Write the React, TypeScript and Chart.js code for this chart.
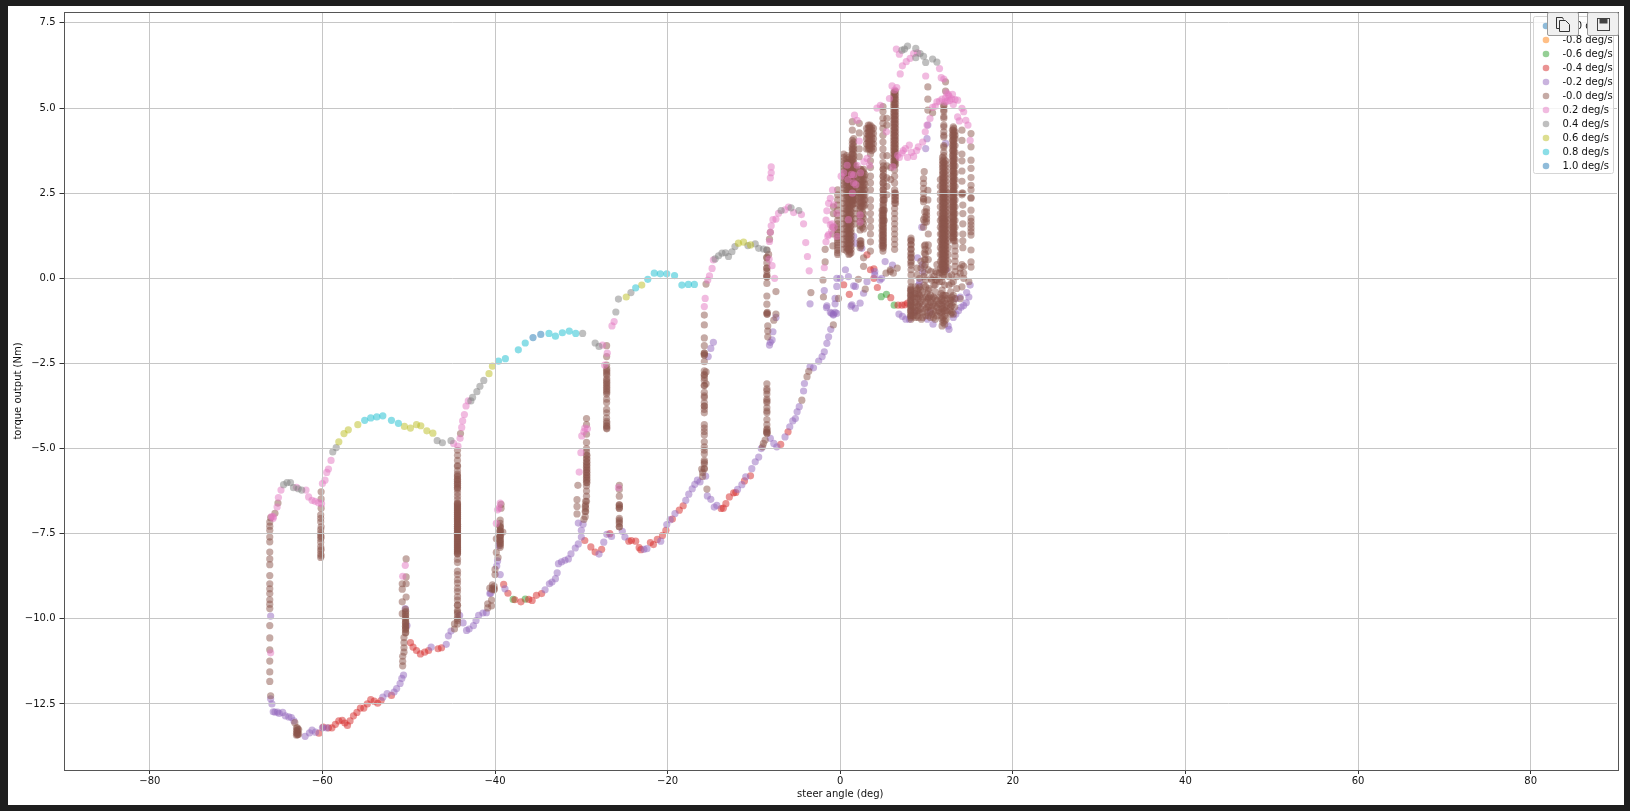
import React, { useEffect, useRef } from "react";
import { Chart, registerables } from "chart.js";

Chart.register(...registerables);

const xTicks = [-80, -60, -40, -20, 0, 20, 40, 60, 80];
const yTicks = [-12.5, -10, -7.5, -5, -2.5, 0, 2.5, 5, 7.5];
const xTitle = "steer angle (deg)";
const yTitle = "torque output (Nm)";

const labels = ["-1.0 deg/s", "-0.8 deg/s", "-0.6 deg/s", "-0.4 deg/s", "-0.2 deg/s", "-0.0 deg/s", "0.2 deg/s", "0.4 deg/s", "0.6 deg/s", "0.8 deg/s", "1.0 deg/s"];
const colors = ["31,119,180", "255,127,14", "44,160,44", "214,39,40", "148,103,189", "140,86,75", "227,119,194", "127,127,127", "188,189,34", "23,190,207", "31,119,180"];

// each row: x, then the y readings at that x
const rateM10: number[][] = [];
const rateM08: number[][] = [];
const rateM06: number[][] = [
  [-37.9, -9.43], [-36.5, -9.42], [4.75, -0.54], [5.35, -0.47], [6.25, -0.79],
];
const rateM04: number[][] = [
  [-60.4, -13.36], [-59.9, -13.18], [-59.3, -13.2], [-58.9, -13.2], [-58.5, -13.1], [-58.1, -13.0], [-57.7, -12.98], [-57.4, -13.06], [-57.1, -13.13], [-56.8, -13.0],
  [-56.4, -12.85], [-56, -12.75], [-55.6, -12.62], [-55.2, -12.62], [-54.8, -12.5], [-54.4, -12.37], [-54, -12.42], [-53.6, -12.48], [-53.2, -12.4], [-52, -12.25],
  [-49.8, -10.7], [-49.5, -10.83], [-49.1, -10.93], [-48.65, -11.03], [-48.15, -10.98], [-47.7, -10.93], [-46.6, -10.88], [-46.2, -10.85],
  [-39, -8.99], [-38.5, -9.25], [-37.7, -9.44], [-37, -9.5], [-36.1, -9.43], [-35.7, -9.46], [-35.2, -9.31], [-34.6, -9.26],
  [-29.6, -7.7], [-28.9, -7.89], [-28.4, -8.04], [-27.65, -7.96], [-26.7, -7.5],
  [-24.5, -7.72], [-24.2, -7.7], [-23.7, -7.72], [-23.3, -7.91], [-23.1, -7.97], [-22, -7.76], [-21.65, -7.82], [-21.2, -7.67], [-20.6, -7.55], [-20.2, -7.4],
  [-19.45, -7.07], [-18.65, -6.81], [-18.2, -6.68], [-13.8, -6.76], [-13.55, -6.75], [-13.25, -6.62], [-12.85, -6.42], [-12.35, -6.3], [-12.1, -6.29],
  [-11.1, -5.95], [-10.4, -5.8], [-6.9, -4.88], [-6.05, -4.51],
  [0.4, -0.19], [1.05, -0.47], [3.1, 0.69], [3.5, 0.25], [3.9, 0.28], [3.9, 0], [4.3, -0.27], [5.85, -0.57], [6.7, -0.79], [7.15, -0.79], [7.5, -0.78], [7.8, -0.73],
];
const rateM02: number[][] = [
  [-66, -9.92], [-66, -12.35], [-65.85, -12.5], [-65.7, -12.73], [-65.5, -12.74], [-65.2, -12.74], [-65, -12.78], [-64.6, -12.75], [-64.3, -12.85], [-63.9, -12.88], [-63.6, -12.9], [-63.3, -13.0],
  [-62, -13.45], [-61.5, -13.35], [-61.2, -13.27], [-60.8, -13.33], [-60, -13.2], [-59.5, -13.2],
  [-53, -12.3], [-52.5, -12.2], [-51.7, -12.15], [-51.4, -12.05], [-51, -11.9], [-50.8, -11.75], [-50.6, -11.65], [-50.4, -9.7], [-50.2, -10.2],
  [-47.4, -10.83], [-45.65, -10.75], [-45.4, -10.5], [-45.1, -10.36], [-44.1, -9.9], [-43.7, -10.12], [-43.3, -10.34], [-43, -10.3], [-42.5, -10.2], [-42.2, -10.05], [-41.9, -9.9], [-41.4, -9.83], [-41, -9.82], [-40.6, -9.26],
  [-39.6, -7.85], [-39.7, -8.3], [-39.8, -8.45], [-39.4, -8.7], [-40.5, -9.25], [-38.85, -9.12],
  [-34.2, -9.15], [-33.7, -8.97], [-33.4, -8.92], [-33, -8.82], [-32.8, -8.65], [-32.65, -8.38], [-32.3, -8.33], [-31.9, -8.28], [-31.5, -8.24], [-31.2, -8.09], [-30.7, -7.92], [-30.35, -7.8], [-30, -7.6], [-30, -7.4], [-30.35, -7.19], [-29.8, -7.22],
  [-27.95, -8.1], [-27.4, -7.75], [-27.05, -7.52], [-26.5, -7.58], [-25.25, -7.43], [-24.95, -7.6], [-22.75, -7.96], [-22.4, -7.94], [-20.8, -7.72],
  [-20.1, -7.23], [-19.7, -7.09], [-19.15, -6.91], [-17.9, -6.52], [-17.55, -6.34], [-17.15, -6.18], [-16.85, -6.05], [-16.55, -5.93], [-16.25, -5.98], [-15.6, -5.81],
  [-14.7, -1.88], [-15, -2.06], [-15.3, -2.3], [-15.4, -6.39], [-15, -6.49], [-14.6, -6.72], [-14.3, -6.67], [-11.9, -6.2], [-11.4, -6.06], [-10.95, -5.83], [-10.25, -5.59], [-9.85, -5.39], [-9.45, -5.25], [-9.15, -5],
  [-8.1, -4.7], [-7.7, -4.85], [-7.35, -4.95], [-6.4, -4.66], [-5.85, -4.36], [-5.5, -4.19], [-5.2, -4.12], [-5, -3.92], [-4.75, -3.77], [-4.25, -3.31], [-4.15, -3.09], [-3.5, -2.6], [-3.1, -2.63], [-2.5, -2.43], [-2.1, -2.3], [-1.85, -2.16], [-1.55, -1.91], [-1.35, -1.72], [-1.1, -1.5],
  [-7.45, -1.15], [-7.8, -1.57], [-7.9, -1.81], [-8.2, -1.96], [-8.1, -1.88],
  [-3.5, -0.75], [-1, -1.03], [-0.8, -1.08], [-0.4, -1.03], [-1.55, -0.81], [-1.85, -0.36], [-1.6, -0.86],
  [-0.6, -0.59], [-0.4, 0], [0, 0], [-0.4, -0.24], [-0.6, -0.75], [-1.15, -1.0], [-0.6, -1], [-0.8, -1.05], [1.35, -0.78], [1.75, -0.24], [0.6, 0.25], [0.95, 0.05], [1.55, -0.22], [2.7, -0.44], [2.3, -0.73], [1.75, -0.88], [1.25, -0.82], [4, 0.2], [4.8, 0], [4.6, -0.05], [5.2, 0.49], [6.05, 0.39], [3.1, -0.1], [2.5, 0.88], [1.75, 1.03], [1.55, 1.23], [4, 0.1],
  [6.8, -1.05], [7.2, -1.12], [7.6, -1.2], [8, -1.2], [8.5, -1.0], [9.5, 0.4], [9.55, 0.2],
  [8.95, 0.6], [9.1, -0.2], [9.2, -0.1], [10.1, -1.2], [10.4, -1.0], [10.75, -1.35],
  [12.3, 0.25], [12.6, -1.5], [12.5, -1.4], [13.1, -1.15], [13.4, -1.05], [13.7, -0.95], [14, -0.85], [14.3, -0.8], [14.6, -0.72], [14.9, -0.55], [15.05, -0.2], [14.65, -0.42], [13.4, -0.6], [13.9, -0.55],
  [10.15, 4.5], [10.05, 4.1], [9.9, 3.81], [12.2, 3.96], [9.45, 1.5],
];
const rateM00: number[][] = [
  [-66.1, -7.16, -7.28, -7.4, -7.6, -7.74, -8.04, -8.24, -8.41, -8.73, -8.97, -9.12, -9.26, -9.44, -9.57, -9.7, -10.2, -10.56, -10.91, -11.24, -11.56, -11.84],
  [-66, -7.03, -12.26], [-65.5, -6.9], [-65.15, -6.6],
  [-63.2, -13.05], [-62.9, -13.2, -13.3, -13.35, -13.4], [-62.75, -13.25, -13.38],
  [-60.15, -6.27, -6.48, -6.75], [-60.2, -6.95, -7.05, -7.15, -7.38, -7.48, -7.55, -7.65, -7.75, -7.88, -8.0, -8.1, -8.2],
  [-50.3, -8.24, -8.77, -8.97, -9.36], [-50.75, -8.97, -9.13, -9.5, -9.85], [-50.35, -9.78, -9.88, -9.98, -10.08, -10.13, -10.2, -10.26, -10.3, -10.4], [-50.55, -10.55, -10.7, -10.85, -10.98], [-50.7, -11.1, -11.25, -11.38],
  [-44.35, -5.05, -5.2, -5.35, -5.5, -5.52, -5.65, -5.75, -5.83, -5.9, -5.96, -6.02, -6.08, -6.14, -6.2, -6.3, -6.4, -6.5, -6.6, -6.64, -6.7, -6.76, -6.82, -6.87, -6.93, -6.99, -7.05, -7.1, -7.16, -7.22, -7.28, -7.33, -7.39, -7.45, -7.5, -7.56, -7.62, -7.68, -7.73, -7.79, -7.85, -7.9, -7.96, -8.02, -8.08, -8.25, -8.35, -8.6, -8.7, -8.85, -8.95, -9.1, -9.2, -9.35, -9.45, -9.6, -9.75, -9.85, -9.95, -10.05, -10.15],
  [-44.7, -10.3, -10.15], [-44, -4.56],
  [-39.3, -6.64, -6.75], [-39.4, -7.1, -7.3, -7.4, -7.48, -7.55, -7.62, -7.7, -7.78, -7.85], [-39.85, -7.65, -8.05], [-39.65, -8.2], [-39.1, -7.45],
  [-40, -8.55, -8.7], [-40.1, -9.05, -9.12, -9.15], [-40.4, -9.45, -9.62], [-40.85, -9.56, -9.68], [-40.6, -9.1],
  [-29.4, -4.12, -4.3, -4.58, -4.82, -5.0, -5.1, -5.2, -5.3, -5.4, -5.48, -5.55, -5.63, -5.7, -5.78, -5.85, -5.93, -6.0, -6.1, -6.25, -6.4, -6.55],
  [-29.55, -6.7, -6.85, -7.0], [-29.7, -7.08], [-30.5, -6.5, -6.7, -6.92], [-30.4, -6.08],
  [-27.07, -1.98, -2.3, -2.55, -2.7, -2.8, -3.0, -3.1, -3.2, -3.3, -3.4, -3.55, -3.65, -3.85, -3.95, -4.1, -4.2, -4.32, -4.4],
  [-25.6, -6.08, -6.2, -6.4, -6.65, -6.75, -7.05, -7.15, -7.3],
  [-15.75, -1.08, -1.37, -1.75, -1.98, -2.2, -2.25, -2.45, -2.72, -2.82, -2.92, -3.0, -3.15, -3.35, -3.5, -3.65, -3.75, -3.85, -3.95, -4.3, -4.4, -4.5, -4.6, -4.8, -4.95, -5.05, -5.15, -5.35, -5.45, -5.6],
  [-15.55, -0.17, -2.75, -3.1], [-15.95, -5.7, -5.82], [-16.05, -5.6], [-15.45, -6.19],
  [-8.5, -0.15, -0.52, -0.76, -1.02, -1.05, 0.83, 0.62, 0.45, 0.3, 0.22, 0.1, 0.04], [-8.4, -1.4, -1.55, -1.72], [-8.3, 0.7], [-8.2, 1.15], [-8.1, 1.35], [-7.45, -0.39, -1.05], [-7.7, -1.23],
  [-8.5, -3.1, -3.25, -3.4, -3.55, -3.65, -3.8, -3.95, -4.15, -4.3, -4.5, -4.55], [-8.7, -4.75], [-8.9, -4.85], [-9.0, -4.95],
  [-4.45, -3.58], [-3.85, -2.89], [-3.65, -2.73], [-0.8, -1.37], [-3.4, -0.42], [-1.95, -0.55], [-2, -0.05], [-1.75, 0.48, 0.85],
  [-0.8, 1.9, 2.1], [-0.85, 1.5, 1.3, 0.95],
  [-0.3, 2.6, 2.45, 2.3, 2.15, 2.0, 1.85, 1.7, 1.6, 1.5, 1.42, 1.35, 1.27, 1.2, 1.12, 1.05, 0.98, 0.9, 0.82, 0.75, 0.7],
  [0.4, 3.65, 3.55, 3.45, 3.35, 3.25, 3.15, 3.05, 2.95, 2.85, 2.75, 2.65, 2.5, 2.35, 2.2, 2.05, 1.9, 1.75, 1.6, 1.45, 1.3, 1.15, 1.0, 0.85],
  [1.1, 3.5, 3.4, 3.3, 3.2, 3.1, 3.0, 2.9, 2.8, 2.7, 2.6, 2.5, 2.4, 2.3, 2.2, 2.1, 2.0, 1.9, 1.8, 1.7, 1.6, 1.5, 1.4, 1.3, 1.2, 1.1, 1.0, 0.9, 0.8, 0.72],
  [1.4, 4.6, 4.35, 4.05, 3.85, 3.75, 3.65, 3.55, 3.45, 3.35, 3.25, 3.15, 3.05, 2.95, 2.85, 2.75, 2.65, 2.55, 2.45, 2.35, 2.25, 2.15],
  [1.75, 3.3, 3.2, 3.1, 3.0, 2.9, 2.8, 2.7, 2.6, 2.5, 2.4, 2.3, 2.2, 2.05, 1.9, 1.75, 1.6],
  [2.2, 4.55, 4.27, 3.8, 3.57], [2.3, 3.2, 3.05, 2.9, 2.75, 2.6, 2.48, 2.36, 2.24, 2.12, 2.05, 1.9, 1.78, 1.66, 1.54, 1.42, 1.1, 1.0, 0.9],
  [2.7, 3.2, 3.1, 3.0, 2.9, 2.8, 2.7, 2.6, 2.5, 2.4, 2.3, 2.2, 2.1, 1.9, 1.75, 1.6, 1.45, 0.6, 0.35],
  [3.25, 4.5, 4.4, 4.3, 4.2, 4.1, 4.0, 3.9, 3.8], [3.65, 4.45, 4.35, 4.25, 4.15, 4.05, 3.95, 3.85, 3.75],
  [3.5, 3.65, 3.45, 3.25, 3.0, 2.8, 2.6, 2.3, 2.1, 1.9, 1.7, 1.5, 1.3, 1.07, 0.8],
  [4.95, 5.04, 4.9, 4.7, 4.55, 4.4, 4.2, 4.0, 3.8, 3.6, 3.4, 3.2, 3.0, 2.8, 2.6, 2.45, 2.3, 2.15, 2.0, 1.92, 1.84, 1.76, 1.68, 1.6, 1.52, 1.44, 1.36, 1.28, 1.2, 1.12, 1.04, 0.96, 0.88, 0.8],
  [5.4, 4.7, 4.5, 3.6, 3.3, 2.95, 2.7, 2.45], [5.1, 2.3, 2.0, 1.7],
  [6.3, 5.48, 5.4, 5.32, 5.24, 5.16, 5.08, 5.0, 4.92, 4.84, 4.76, 4.68, 4.6, 4.52, 4.44, 4.36, 4.28, 4.2, 4.12, 4.04, 3.96, 3.88, 3.8, 3.72, 3.64, 3.56, 3.48, 3.4, 3.32, 3.18, 3.0, 2.8, 2.6, 2.5, 2.4, 2.3, 2.2, 2.05, 1.9, 1.75, 1.6, 1.45, 1.3, 1.15, 1.0, 0.85],
  [5.85, 3.25, 2.9], [5.8, 0.25], [5.3, 0.15], [6.6, 0.3], [6.15, 0.15], [2.9, -0.32], [2.1, -0.03], [-0.2, -0.59], [5.8, 0.2],
  [8.2, 1.18, 1.12, 1.0, 0.85, 0.7, 0.6, 0.45, 0.25, 0.1, -0.1, -0.25, -0.35, -0.45, -0.55, -0.65, -0.75, -0.85, -0.95, -1.05, -1.15],
  [10.15, 5.62, 5.26, 4.94, 2.58, 2.3], [10.7, 4.86], [9.73, 3.13], [9.65, 2.93, 2.79, 2.64, 2.49, 2.34],
  [10, 2.05, 1.95, 1.85, 1.75, 1.65], [9.65, 1.72, 1.5], [10.2, 1.3], [9.85, 0.98, 0.85, 0.7, 0.55, 0.4], [10.2, 0.98, 0.8, 0.55, 0.25], [9.35, 0.5, 0.3],
  [12.2, 5.77, 5.5], [12, 5.09, 4.95, 4.75, 4.5, 4.3, 4.15, 3.9, 3.7],
  [11.85, 3.55, 3.45, 3.35, 3.25, 3.15, 3.05, 2.95, 2.85, 2.75, 2.65, 2.55, 2.45, 2.35, 2.25, 2.15, 2.05, 1.95, 1.85, 1.75, 1.65, 1.55, 1.45, 1.35, 1.25, 1.15, 1.05, 0.95, 0.85, 0.75, 0.65, 0.55, 0.45, 0.35, 0.25, 0.15, 0.05],
  [12.2, 3.45, 3.35, 3.25, 3.15, 3.05, 2.95, 2.85, 2.75, 2.65, 2.55, 2.45, 2.35, 2.25, 2.15, 2.05, 1.95, 1.85, 1.75, 1.65, 1.55, 1.45, 1.35, 1.25, 1.15, 1.05, 0.95, 0.85, 0.75, 0.65, 0.55, 0.45, 0.35, 0.25],
  [11.6, 2.9, 2.7, 2.5, 2.3, 2.1, 1.9, 1.7, 1.5, 1.3, 1.1, 0.9, 0.7, 0.5, 0.3],
  [12.5, 2.5, 2.3, 2.1, 1.9, 1.7, 1.5, 1.3, 1.1, 0.9, 0.7, 0.5, 0.3],
  [13.1, 4.45, 4.35, 4.25, 4.15, 4.05, 3.95, 3.85, 3.75, 3.65, 3.55, 3.45, 3.35, 3.25, 3.15, 3.05, 2.95, 2.85, 2.75, 2.65, 2.55, 2.45, 2.35, 2.25, 2.15, 2.05, 1.95, 1.85, 1.75, 1.65, 1.55, 1.45, 1.35, 1.25, 1.15],
  [13.3, 4.3, 4.2, 4.1, 3.9, 3.7, 3.5, 3.3, 3.1, 2.9, 2.7, 2.5, 2.3, 2.1, 1.9, 1.7, 1.5, 1.3, 1.1, 0.95, 0.8, 0.65, 0.5, 0.35, 0.2],
  [14.1, 4.35, 4.05, 3.65, 3.45, 3.15, 2.85, 2.45, 2.5], [14.2, 2.5, 2.15, 1.9, 1.6, 1.3, 1.1, 0.9],
  [15.15, 4.25, 3.86, 3.47, 3.23, 2.96, 2.73, 2.6, 2.37, 2.35, 2.0, 1.77, 1.67, 1.57, 1.47, 1.37, 1.27, 0.83, 0.48, 0.33],
  [14.3, 0.35, 0.15, 0.0], [13.9, 0.15, 0.3], [14.9, -0.1],
  [8.7, -0.25, -0.45, -0.7, -0.95, -1.15], [9.2, 0, -0.25, -0.5, -0.75, -1.0], [10.2, -0.35, -0.6, -0.85, -1.1], [10.8, -0.55, -0.75, -0.95, -1.15], [11.8, -0.1, -0.35, -0.6, -0.8, -1.0, -1.2, -1.4],
  [12.1, -0.2, -0.5, -0.85, -1.1, -1.35], [12.8, -0.4, -0.65, -0.85, -1.05], [13.1, -0.1, -0.5, -0.7, -1.05], [13.9, -0.6], [11.0, -0.2, -0.4], [10.5, 0.2, 0], [11.2, 0.4, 0.15, -0.05], [9.9, -0.05, -0.25],
  [11.4, -0.75, -0.95],
];
// repeat passes over the same stretches, which is what makes them read dark
const rateM00Repeat: number[][] = [
  [-60.15, -7.3, -7.6, -7.95, -8.15],
  [-50.38, -9.72, -9.82, -9.92, -10.02, -10.12, -10.22, -10.32, -10.42],
  [-44.35, -5.8, -5.92, -6.04, -6.16, -6.62, -6.68, -6.74, -6.8, -6.86, -6.92, -6.98, -7.04, -7.1, -7.16, -7.22, -7.28, -7.34, -7.4, -7.46, -7.52, -7.58, -7.64, -7.7, -7.76, -7.82, -7.88, -7.94, -8.0, -8.06, -8.1],
  [-44.35, -9.6, -9.8, -10.0],
  [-39.4, -7.2, -7.32, -7.44, -7.56, -7.68, -7.8, -7.9], [-39.42, -7.28, -7.42, -7.58, -7.74],
  [-40.3, -9.0, -9.1, -9.15], [-63.0, -13.2, -13.28, -13.36, -13.42], [-62.85, -13.25, -13.4],
  [-29.35, -5.2, -5.3, -5.4, -5.5, -5.6, -5.7, -5.8, -5.9, -6.0], [-29.5, -6.55, -6.65, -6.75, -6.85],
  [-27.05, -2.65, -2.75, -2.85, -2.95, -3.05, -3.15, -3.25, -3.35, -4.25, -4.35, -4.42],
  [-25.6, -6.65, -6.7, -6.75, -7.1, -7.2, -7.3],
  [-15.75, -2.2, -2.25, -2.85, -3.15, -3.45, -3.75, -5.4, -5.58],
  [-8.5, -3.3, -3.6, -3.9, -4.45, -4.52],
  [-8.48, -4.42, -4.55],
  [-8.52, 0.6, 0.3, 0.05], [-8.45, -1.0, -1.05],
  [0.75, 3.6, 3.5, 3.4, 3.3, 3.2, 3.1, 3.0, 2.9, 2.8, 2.7, 2.6, 2.5, 2.4, 2.3, 2.2, 2.1, 2.0, 1.9, 1.8, 1.7, 1.6, 1.5, 1.4, 1.3, 1.2, 1.1, 1.0, 0.9, 0.8],
  [1.25, 3.45, 3.35, 3.25, 3.15, 3.05, 2.95, 2.85, 2.75, 2.65, 2.55, 2.45, 2.35, 2.25, 2.15, 2.05, 1.95, 1.85, 1.75, 1.65, 1.55, 1.45, 1.35, 1.25, 1.15, 1.05, 0.95, 0.85, 0.75],
  [1.0, 3.55, 3.4, 3.25, 3.1, 2.95, 2.8, 2.65, 2.5, 2.35, 2.2, 2.05, 1.9, 1.75, 1.6, 1.45, 1.3, 1.15, 1.0, 0.85, 0.7],
  [0.9, 3.4, 3.2, 3.0, 2.8, 2.6, 2.4, 2.2, 2.0, 1.8, 1.6, 1.4, 1.2, 1.0, 0.85],
  [1.55, 4.1, 4.0, 3.9, 3.8, 3.7, 3.6, 3.5, 3.4, 3.3, 3.2, 3.1, 3.0, 2.9, 2.8, 2.7, 2.6, 2.5, 2.4, 2.3, 2.2],
  [1.4, 3.95, 3.8, 3.65, 3.5, 3.35, 3.2, 3.05, 2.9, 2.75, 2.6, 2.45, 2.3],
  [2.4, 3.2, 3.1, 3.0, 2.9, 2.8, 2.7, 2.6, 2.5, 2.4, 2.3, 2.2, 2.1, 1.1, 1.02, 0.95],
  [2.55, 3.15, 3.0, 2.85, 2.7, 2.55, 2.4, 2.25, 2.1, 1.95, 1.8, 1.65, 1.5],
  [2.85, 3.05, 2.9, 2.75, 2.6, 2.45, 2.3, 2.15],
  [3.05, 4.4, 4.25, 4.1, 3.95, 3.8], [3.45, 4.5, 4.4, 4.3, 4.2, 4.1, 4.0, 3.9, 3.8], [3.85, 4.4, 4.25, 4.1, 3.95, 3.8], [3.4, 4.45, 4.32, 4.18, 4.05, 3.92, 3.82],
  [5, 3.3, 3.2, 3.1, 3.0, 2.9, 2.8, 2.7, 2.6, 2.5, 2.4, 2.3, 2.2, 2.1, 2.0, 1.9, 1.8, 1.7, 1.6, 1.5, 1.4, 1.3, 1.2, 1.1, 1.0, 0.92],
  [4.85, 2.0, 1.85, 1.7, 1.55, 1.4, 1.25, 1.1, 0.95],
  [6.2, 5.45, 5.35, 5.25, 5.15, 5.05, 4.95, 4.85, 4.75, 4.65, 4.55, 4.45, 4.35, 4.25, 4.15, 4.05, 3.95, 3.85, 3.75, 3.65, 3.55, 3.45, 3.35],
  [6.4, 5.5, 5.38, 5.26, 5.14, 5.02, 4.9, 4.78, 4.66, 4.54, 4.42, 4.3, 4.18, 4.06, 3.94, 3.82, 3.7, 3.58, 3.46, 3.34, 2.5, 2.4, 2.3, 2.2],
  [8.2, 1.1, 0.98, 0.86, 0.74, 0.62, 0.5, 0.38, -0.3, -0.4, -0.5, -0.6, -0.7, -0.8, -0.9, -1.0, -1.1, -1.2],
  [8.15, -0.35, -0.5, -0.65, -0.8, -0.95, -1.1],
  [9.65, 2.32, 2.25], [9.8, 1.95, 1.8, 1.65], [9.75, 0.95, 0.75, 0.55, 0.35, 0.15],
  [12, 5.05, 4.9, 4.7, 4.45, 4.2, 3.85, 3.6, 3.5, 3.4, 3.3, 3.2, 3.1, 3.0, 2.9, 2.8, 2.7, 2.6, 2.5, 2.4, 2.3, 2.2, 2.1, 2.0, 1.9, 1.8, 1.7, 1.6, 1.5, 1.4, 1.3, 1.2, 1.1, 1.0, 0.9, 0.8, 0.7, 0.6, 0.5, 0.4, 0.3, 0.2, 0.1],
  [11.95, 3.4, 3.25, 3.1, 2.95, 2.8, 2.65, 2.5, 2.35, 2.2, 2.05, 1.9, 1.75, 1.6, 1.45, 1.3, 1.15, 1.0, 0.85, 0.7, 0.55, 0.4, 0.25],
  [12.1, 1.7, 1.55, 1.4, 1.25, 1.1, 0.95, 0.8, 0.65, 0.5, 0.35, 0.2],
  [11.75, 1.75, 1.6, 1.45, 1.3, 1.15, 1.0, 0.85, 0.7, 0.55, 0.4, 0.25],
  [13.15, 4.4, 4.3, 4.2, 4.1, 4.0, 3.9, 3.8, 3.7, 3.6, 3.5, 3.4, 3.3, 3.2, 3.1, 3.0, 2.9, 2.8, 2.7, 2.6, 2.5, 2.4, 2.3, 2.2, 2.1, 2.0, 1.9, 1.8, 1.7, 1.6, 1.5, 1.4, 1.3, 1.2, 1.1],
  [13.0, 4.35, 4.2, 4.05, 3.9, 3.75, 3.6, 3.45, 3.3, 3.15, 3.0, 2.85, 2.7, 2.55, 2.4, 2.25, 2.1, 1.95, 1.8, 1.65, 1.5, 1.35, 1.2],
  [8.6, -0.45, -0.6, -0.8, -1.0], [9.05, -0.3, -0.45, -0.6, -0.8, -0.95, -1.15], [9.3, -0.35, -0.55, -0.7, -0.9], [9.9, -0.55, -0.7, -0.9, -1.1], [10.45, -0.5, -0.7, -0.95, -1.15], [11, -0.6, -0.8, -1.0, -1.2], [11.55, -0.55, -0.75, -1.0], [11.9, -0.5, -0.7, -0.9, -1.15, -1.3], [12.05, -0.65, -0.95, -1.25], [12.4, -0.6, -0.8, -1.0], [12.7, -0.6, -0.75, -0.95],
  [9.4, -1.2], [10.6, -0.05], [11.5, 0.15, -0.1], [12.9, 0.1, -0.15], [12.6, -0.2, 0.05], [13.5, -0.3, 0.05], [14.1, -0.25, 0.4],
  [8.9, -0.35, -0.55, -0.75, -0.95, -1.1], [9.55, -0.4, -0.6, -0.8, -1.0, -1.15], [10.05, -0.45, -0.65, -0.85, -1.0], [10.65, -0.6, -0.8, -1.05], [11.2, -0.65, -0.85, -1.1], [11.7, -0.45, -0.65, -0.9, -1.1], [12.25, -0.5, -0.75, -0.95, -1.2], [12.95, -0.55, -0.8, -1.0], [13.25, -0.6, -0.85], [10.3, -0.3, -0.55, -0.8], [8.45, -0.55, -0.85, -1.1], [9.7, 0.05, -0.2], [11.05, 0.2, -0.05], [8.9, 0.1, 0.3], [10.85, 0.05, -0.2],
];
const rateP02: number[][] = [
  [-66, -11.0], [-65.9, -7.0], [-65.7, -7.0, -7.05], [-65.25, -6.72], [-65.1, -6.44], [-64.8, -6.22], [-63, -6.14], [-61.9, -6.22], [-61.6, -6.42], [-61.2, -6.52], [-60.85, -6.55], [-60.45, -6.59], [-60.1, -6.62], [-60, -6.03], [-59.7, -5.93], [-59.5, -5.7], [-59.3, -5.6], [-59, -5.35],
  [-50.4, -8.43], [-50.7, -8.75], [-44.8, -4.85], [-44.3, -4.93], [-44.05, -4.7], [-43.86, -4.38], [-43.75, -4.19], [-43.55, -4.0], [-43.36, -3.75], [-43.1, -3.6],
  [-39.4, -6.6], [-39.7, -6.8], [-39.85, -7.2], [-39.55, -6.75],
  [-30.05, -5.12], [-30.25, -5.69], [-29.95, -4.63], [-29.6, -4.4], [-29.3, -4.42], [-29.7, -4.5],
  [-27.55, -1.96], [-27, -2.2], [-27.3, -2.55], [-26.45, -1.4], [-26.2, -1.27], [-25.7, -6.15],
  [-15.65, -0.59], [-15.75, -0.83], [-15.35, -0.05], [-15.15, 0.07], [-14.85, 0.29], [-14.7, 0.54],
  [-8.25, 0.56], [-7.9, 0.37], [-7.6, 0], [-8.2, 1.08], [-8.1, 1.35], [-8, 1.54], [-7.8, 1.72], [-7.45, 1.74], [-7.15, 1.91], [-6.4, 2.01], [-6, 2.09], [-5.4, 1.93], [-4.5, 1.87], [-4.25, 1.6], [-4, 1.05], [-3.8, 0.64], [-3.6, 0.22],
  [-8, 3.27], [-8, 3.1], [-8.1, 2.95],
  [-1.85, 0.31], [-1.45, 1.24], [-1.65, 1.07], [-1.65, 1.71], [-1.55, 1.98], [-1.35, 2.2], [-1.15, 2.35], [-0.9, 2.59], [-1.35, 1.28], [-1.15, 1.57], [-0.95, 1.6], [-0.75, 2.16], [-0.4, 1.91], [-0.4, 1.23], [0.95, 1.72], [2.3, 1.86], [2.3, 1.65], [-0.7, 1.5], [-1, 1.4],
  [0.4, 3.1], [0.1, 3.0], [1.55, 3.03], [0.8, 3.32], [1.95, 3.32], [1.65, 4.79], [1.95, 4.64], [2.2, 4.03], [3.1, 3.52], [2.75, 3.42], [3.4, 3.32], [1.3, 3.05], [0.9, 2.9], [1.8, 2.75], [1.4, 2.5], [1.55, 2.8], [2.35, 3.1],
  [4.25, 5], [4.65, 5.08], [5.7, 5.28], [6.3, 5.53], [6, 5.65], [6.55, 5.6], [5.35, 4.3], [6.1, 3.27], [6.65, 3.61], [7.15, 3.68], [7.55, 3.81], [8, 3.91], [8.5, 3.58], [8.25, 3.7], [8.85, 3.75], [9.05, 3.86], [6.85, 3.55], [7.3, 3.75], [7.8, 3.55],
  [6.5, 6.73], [6.85, 6.58], [6.95, 6.0], [7.2, 6.24], [7.65, 6.36], [8.1, 6.46], [8.5, 6.6], [8.95, 6.62], [9.9, 5.94], [11.5, 6.16], [11.7, 5.89], [12, 5.85],
  [9.55, 4.0], [9.85, 4.3], [10.05, 4.5], [10.4, 4.69], [11, 5.05], [11.2, 5.18], [10.7, 5.02], [11.8, 5.26], [12.2, 5.3], [12.6, 5.35], [12.3, 5.45], [12.9, 5.27], [13.3, 5.25], [13.1, 5.1], [13.6, 5.23], [14.1, 4.99], [14.3, 4.89], [13.6, 4.74], [13.8, 4.62], [14.55, 4.64], [14.8, 4.5], [15.05, 4.05],
  [12.4, 5.2], [12.7, 5.22], [12.5, 5.4], [12.15, 5.18], [11.5, 5.2], [13, 5.4],
];
const rateP04: number[][] = [
  [-64.5, -6.06], [-64.1, -6.0], [-63.7, -6.0], [-63.35, -6.15], [-62.8, -6.18], [-62.4, -6.22], [-58.8, -5.1], [-58.4, -4.97], [-46.7, -4.77], [-46.1, -4.83], [-45.1, -4.77],
  [-42.8, -3.6], [-42.6, -3.5], [-42.1, -3.33], [-41.75, -3.17], [-41.3, -3.0], [-29.85, -1.62], [-28.4, -1.9], [-27.95, -2],
  [-26, -0.99], [-25.7, -0.61], [-24.25, -0.42],
  [-14.5, 0.57], [-14.1, 0.66], [-13.7, 0.74], [-13.3, 0.75], [-12.95, 0.64], [-12.55, 0.78], [-12.2, 0.93], [-10.7, 0.96], [-9.85, 1.01], [-9.45, 0.88], [-8.9, 0.86], [-8.5, 0.83],
  [-6.85, 1.99], [-5.7, 2.07], [-4.8, 1.99],
  [7.15, 6.7], [7.45, 6.73], [7.8, 6.82], [8.75, 6.75], [8.75, 6.48], [9.25, 6.6], [9.65, 6.52], [9.9, 6.34], [10.7, 6.44], [11.2, 6.35],
];
const rateP06: number[][] = [
  [-58.1, -4.8], [-57.5, -4.56], [-55.9, -4.3], [-50.5, -4.35], [-49.8, -4.4], [-49.1, -4.3], [-48.6, -4.33], [-47.9, -4.48], [-47.2, -4.55],
  [-57, -4.45], [-40.7, -2.8], [-40.3, -2.58], [-24.8, -0.55], [-23, -0.2], [-11.8, 1.03], [-11.2, 1.06], [-10.4, 0.98],
];
const rateP08: number[][] = [
  [-55.1, -4.17], [-54.4, -4.1], [-53.7, -4.07], [-53, -4.04], [-52, -4.17], [-51.2, -4.26],
  [-39.6, -2.43], [-38.8, -2.36], [-37.3, -2.1], [-36.5, -1.9], [-33.75, -1.62], [-33, -1.7], [-32.2, -1.6], [-31.4, -1.55], [-30.65, -1.62],
  [-23.7, -0.28], [-22.3, -0.03], [-21.55, 0.15], [-20.85, 0.13], [-20.1, 0.13], [-19.2, 0.08], [-18.35, -0.2], [-17.6, -0.18], [-16.9, -0.18],
];
const rateP10: number[][] = [
  [-35.6, -1.74], [-34.7, -1.65],
];

const seriesRows = [rateM10, rateM08, rateM06, rateM04, rateM02, [...rateM00, ...rateM00Repeat], rateP02, rateP04, rateP06, rateP08, rateP10];

const toPoints = (rows: number[][]) =>
  rows.flatMap(([x, ...ys]) => ys.map((y) => ({ x, y })));

const fmtTick = (v: number, digits: number) => v.toFixed(digits).replace("-", "\u2212");
const FONT = "DejaVu Sans";

const frameAndLegend = {
  id: "frameAndLegend",
  afterDraw(chart: any) {
    const { ctx, chartArea: a } = chart;
    ctx.save();
    ctx.strokeStyle = "#555";
    ctx.lineWidth = 1;
    ctx.strokeRect(Math.round(a.left) + 0.5, Math.round(a.top) + 0.5, Math.round(a.right - a.left), Math.round(a.bottom - a.top));
    const boxW = 80, boxH = 157, rowH = 14;
    const bx = a.right - boxW - 4, by = a.top + 4;
    ctx.beginPath();
    ctx.roundRect(bx + 0.5, by + 0.5, boxW, boxH, 2);
    ctx.fillStyle = "rgba(255,255,255,0.8)";
    ctx.fill();
    ctx.strokeStyle = "#d5d5d5";
    ctx.stroke();
    ctx.font = `10px "${FONT}"`;
    ctx.textBaseline = "middle";
    ctx.textAlign = "left";
    labels.forEach((label, i) => {
      const y = by + 10 + i * rowH;
      ctx.beginPath();
      ctx.arc(bx + 13, y, 3.3, 0, Math.PI * 2);
      ctx.fillStyle = `rgba(${colors[i]},0.5)`;
      ctx.fill();
      ctx.fillStyle = "#111";
      ctx.fillText(label, bx + 29.5, y);
    });
    ctx.restore();
  },
};

function Btn({ left, children }: { left: number; children: React.ReactNode }) {
  return (
    <div style={{ position: "absolute", left, top: 12, width: 30, height: 22, boxSizing: "content-box", background: "#f0f0f0", border: "1px solid #9a9a9a", borderRadius: 2, display: "flex", alignItems: "center", justifyContent: "center" }}>
      {children}
    </div>
  );
}

export default function App() {
  const ref = useRef<HTMLCanvasElement>(null);
  useEffect(() => {
    const chart = new Chart(ref.current!, {
      type: "scatter",
      data: {
        datasets: seriesRows.map((rows, i) => ({
          label: labels[i],
          data: toPoints(rows),
          backgroundColor: `rgba(${colors[i]},0.5)`,
          borderWidth: 0,
          pointRadius: 3.6,
          order: seriesRows.length - i,
        })),
      },
      options: {
        responsive: false,
        animation: false,
        layout: { padding: { left: 0, right: 7, top: 6, bottom: 0 } },
        plugins: { legend: { display: false }, tooltip: { enabled: false } },
        scales: {
          x: {
            type: "linear",
            min: -90,
            max: 90,
            afterBuildTicks: (s: any) => { s.ticks = xTicks.map((value) => ({ value })); },
            afterFit: (s: any) => { s.height = 35; s.paddingLeft = 0; s.paddingRight = 0; },
            grid: { color: "#c6c6c6", lineWidth: 1, tickColor: "#333", tickLength: 4, z: 1 },
            border: { display: false },
            ticks: { autoSkip: false, maxRotation: 0, padding: 1, color: "#111", font: { family: FONT, size: 10 }, callback: (v: any) => fmtTick(Number(v), 0) },
            title: { display: true, text: xTitle, color: "#111", font: { family: FONT, size: 10 }, padding: { top: 2, bottom: 5 } },
          },
          y: {
            type: "linear",
            min: -14.44,
            max: 7.82,
            afterBuildTicks: (s: any) => { s.ticks = yTicks.map((value) => ({ value })); },
            afterFit: (s: any) => { s.width = 55.5; s.paddingTop = 0; s.paddingBottom = 0; },
            grid: { color: "#c6c6c6", lineWidth: 1, tickColor: "#333", tickLength: 4, z: 1 },
            border: { display: false },
            ticks: { autoSkip: false, padding: 4, color: "#111", font: { family: FONT, size: 10 }, callback: (v: any) => fmtTick(Number(v), 1) },
            title: { display: true, text: yTitle, color: "#111", font: { family: FONT, size: 10 }, padding: { top: 4, bottom: 0 } },
          },
        },
      },
      plugins: [frameAndLegend],
    } as any);
    return () => chart.destroy();
  }, []);

  return (
    <div style={{ position: "fixed", inset: 0, background: "#1e1e1e", overflow: "hidden" }}>
      <canvas ref={ref} width={1616} height={799} style={{ position: "absolute", left: 8, top: 6, width: 1616, height: 799, background: "#fff", display: "block" }} />
      <Btn left={1547}>
        <svg width="16" height="17" viewBox="0 0 16 17" fill="none" stroke="#333" strokeWidth="1">
          <path d="M5.5 1.5 H1.5 V12.5 H4.5" />
          <path d="M1.5 1.5 H7.5 L8.5 3.5" />
          <path d="M4.5 4.5 H10.5 L14.5 8.5 V15.5 H4.5 Z" />
        </svg>
      </Btn>
      <Btn left={1587}>
        <svg width="13" height="13" viewBox="0 0 13 13" fill="none" stroke="#444" strokeWidth="1">
          <rect x="0.5" y="0.5" width="12" height="12" />
          <rect x="3" y="0.5" width="7" height="4.5" fill="#444" />
        </svg>
      </Btn>
    </div>
  );
}
